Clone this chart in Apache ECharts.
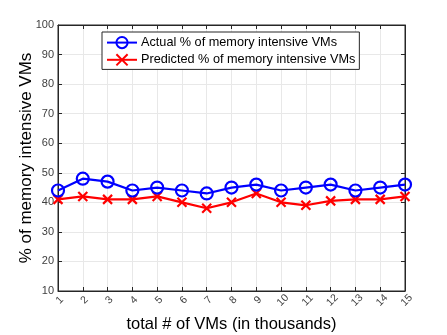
<!DOCTYPE html>
<html><head><meta charset="utf-8">
<script src="https://cdn.jsdelivr.net/npm/echarts@6/dist/echarts.min.js"></script>
<style>html,body{margin:0;padding:0;background:#fff}#c{width:447px;height:335px}</style>
</head><body><div id="c"></div>
<script>
const categories = ['1','2','3','4','5','6','7','8','9','10','11','12','13','14','15'];
const actual = [44,48,47,44,45,44,43,45,46,44,45,46,44,45,46];
const predicted = [41,42,41,41,42,40,38,40,43,40,39,40.5,41,41,42];
const yTicks = {min:10, max:100, interval:10};
const F = 'Liberation Sans, Arial, Helvetica, sans-serif';
const chart = echarts.init(document.getElementById('c'), null, {renderer:'canvas'});
const axCol = '#262626';
chart.setOption({
  animation:false,
  textStyle:{fontFamily:F},
  grid:{left:58, right:42, top:25, bottom:44, show:true, borderColor:axCol, borderWidth:1, backgroundColor:'#fff',
    outerBoundsMode:'none', containLabel:false},
  legend:{
    orient:'vertical', left:102, top:32, itemWidth:30, itemHeight:14, itemGap:4,
    padding:[4,4,3,4], borderColor:axCol, borderWidth:1, backgroundColor:'#fff',
    textStyle:{fontFamily:F, fontSize:12.7, color:'#000', padding:[0,0,0,-1]},
    data:['Actual % of memory intensive VMs','Predicted % of memory intensive VMs']
  },
  xAxis:[{
    type:'category', data:categories, boundaryGap:false,
    name:'total # of VMs (in thousands)', nameLocation:'middle', nameGap:25, nameMoveOverlap:false,
    nameTextStyle:{fontFamily:F, fontSize:16.5, color:'#000'},
    axisLine:{lineStyle:{color:axCol}},
    axisTick:{inside:true, length:4, lineStyle:{color:axCol}},
    axisLabel:{rotate:45, fontSize:10.5, color:'#404040', margin:11, interval:0,
      align:'center', verticalAlign:'middle', padding:[0,0,0,5]},
    splitLine:{show:true, lineStyle:{color:'#e8e8e8'}}
  },{
    type:'category', data:categories, boundaryGap:false, position:'top',
    axisLine:{lineStyle:{color:axCol}},
    axisTick:{inside:true, length:4, lineStyle:{color:axCol}},
    axisLabel:{show:false}, splitLine:{show:false}
  }],
  yAxis:[{
    type:'value', min:yTicks.min, max:yTicks.max, interval:yTicks.interval,
    name:'% of memory intensive VMs', nameLocation:'middle', nameGap:23, nameMoveOverlap:false,
    nameTextStyle:{fontFamily:F, fontSize:17, color:'#000'},
    axisLine:{show:true, lineStyle:{color:axCol}},
    axisTick:{show:true, inside:true, length:4, lineStyle:{color:axCol}},
    axisLabel:{fontSize:11, color:'#404040', margin:4},
    splitLine:{show:true, lineStyle:{color:'#e8e8e8'}}
  },{
    type:'value', min:yTicks.min, max:yTicks.max, interval:yTicks.interval, position:'right',
    axisLine:{show:true, lineStyle:{color:axCol}},
    axisTick:{show:true, inside:true, length:4, lineStyle:{color:axCol}},
    axisLabel:{show:false}, splitLine:{show:false}
  }],
  series:[{
    name:'Actual % of memory intensive VMs', type:'line', data:actual,
    symbol:'circle', symbolSize:12,
    lineStyle:{color:'#0000ff', width:2.2},
    itemStyle:{color:'rgba(255,255,255,0)', borderColor:'#0000ff', borderWidth:2.2},
    z:3
  },{
    name:'Predicted % of memory intensive VMs', type:'line', data:predicted,
    symbol:'path://M0,0L10,10M10,0L0,10', symbolSize:9,
    lineStyle:{color:'#ff0000', width:2.2},
    itemStyle:{color:'#ff0000', borderColor:'#ff0000', borderWidth:2.2},
    z:2
  }]
});
</script></body></html>
